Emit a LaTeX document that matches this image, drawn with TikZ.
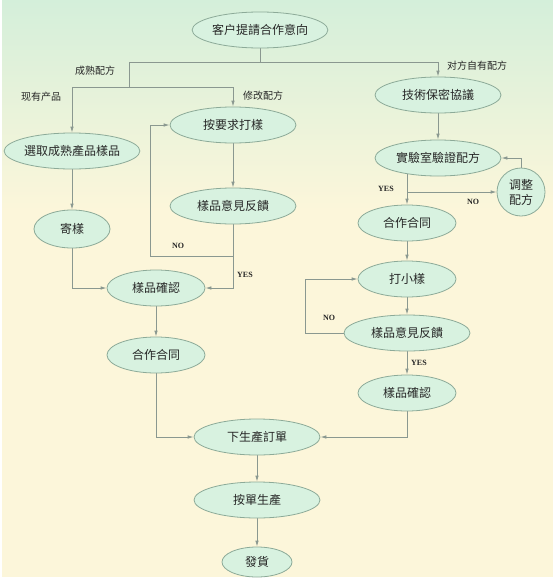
\documentclass[tikz,border=0pt]{standalone}
\usepackage{fontspec}
\setmainfont{Liberation Serif}
\newfontfamily\cjk{Noto Sans CJK SC}
\usetikzlibrary{shapes.geometric,arrows.meta}
\definecolor{nodefill}{RGB}{216,242,224}
\definecolor{nodeline}{RGB}{140,170,152}
\definecolor{linkcol}{RGB}{138,152,144}
\definecolor{topbg}{RGB}{212,239,218}
\definecolor{lowbg}{RGB}{252,246,218}
\pgfdeclarelayer{bg}
\pgfdeclarelayer{links}
\pgfsetlayers{bg,links,main}
\tikzset{
	proc/.style={ellipse,draw=nodeline,fill=nodefill,line width=0.8pt,inner sep=0pt,
		minimum height=36pt,font=\cjk\fontsize{12}{14}\selectfont,text=black!85},
	wide/.style={proc,minimum width=126pt},
	mid/.style={proc,minimum width=98pt},
	lbl/.style={font=\cjk\fontsize{10}{12}\selectfont,text=black!85},
	yn/.style={font=\bfseries\fontsize{8}{9}\selectfont,text=black!85},
	link/.style={draw=linkcol,line width=0.8pt}
}
\begin{document}
\begin{tikzpicture}[x=1pt,y=-1pt,>={Latex[length=6pt,width=3.5pt]}]
	\useasboundingbox (0,0) rectangle (553,587);
	\begin{pgfonlayer}{bg}
		\fill[white] (0,0) rectangle (553,587);
		\shade[top color=topbg,bottom color=lowbg] (2,0) rectangle (553,210);
		\fill[lowbg] (2,209) rectangle (553,577);
	\end{pgfonlayer}

	\draw (260,30) node[wide] (req){客户提請合作意向};
	\draw (438,95) node[wide] (secret){技術保密協議};
	\draw (233,125) node[wide] (custom){按要求打樣};
	\draw (72,151) node[wide] (pick){選取成熟產品樣品};
	\draw (438,158) node[wide] (lab){實驗室驗證配方};
	\draw (521,192) node[proc,circle,minimum size=48pt,align=center,font=\cjk\fontsize{12}{15}\selectfont] (adjust){调整\\配方};
	\draw (233,206) node[wide] (feedL){樣品意見反饋};
	\draw (72,229) node[proc,minimum width=76pt,minimum height=38pt] (send){寄樣};
	\draw (407,223) node[mid] (contractR){合作合同};
	\draw (156,288) node[mid] (confirmL){樣品確認};
	\draw (407,279) node[mid] (small){打小樣};
	\draw (156,355) node[mid] (contractL){合作合同};
	\draw (407,333) node[wide] (feedR){樣品意見反饋};
	\draw (407,393) node[mid] (confirmR){樣品確認};
	\draw (257,437) node[wide] (order){下生產訂單};
	\draw (257,500) node[wide] (produce){按單生產};
	\draw (257,562) node[proc,minimum width=70pt,minimum height=30pt] (ship){發貨};

	\coordinate (fork1) at (129,62);
	\coordinate (fork2) at (129,87);
	\coordinate (noL) at (233,256);
	\coordinate (loopL) at (150,256);
	\coordinate (loopR) at (305,333);

	\begin{pgfonlayer}{links}
		\draw[link] (req) -- (req |- fork1);
		\draw[link,->] (fork1) -| (secret);
		\draw[link] (fork1) -- (fork2);
		\draw[link,->] (fork2) -| (pick);
		\draw[link,->] (fork2) -| (custom);

		\draw[link,->] (pick) -- (send);
		\draw[link,->] (send) |- (confirmL);
		\draw[link,->] (custom) -- (feedL);
		\draw[link,->] (feedL) |- (confirmL);
		\draw[link,->] (noL) -- (loopL) |- (custom);
		\draw[link,->] (confirmL) -- (contractL);
		\draw[link,->] (contractL) |- (order);

		\draw[link,->] (secret) -- (lab);
		\draw[link,->] (contractR |- lab) -- (contractR);
		\draw[link,->] (contractR |- adjust) -- (adjust);
		\draw[link,->] (adjust) |- (lab);
		\draw[link,->] (contractR) -- (small);
		\draw[link,->] (small) -- (feedR);
		\draw[link,->] (feedR) -- (loopR) |- (small);
		\draw[link,->] (feedR) -- (confirmR);
		\draw[link,->] (confirmR) |- (order);

		\draw[link,->] (order) -- (produce);
		\draw[link,->] (produce) -- (ship);
	\end{pgfonlayer}

	\draw (95,71) node[lbl] (matureLbl){成熟配方};
	\draw (477,66) node[lbl] (ownLbl){对方自有配方};
	\draw (41,97) node[lbl] (stockLbl){现有产品};
	\draw (263,96) node[lbl] (modLbl){修改配方};
	\draw (178,246) node[yn] (noLbl1){NO};
	\draw (245,275) node[yn] (yesLbl1){YES};
	\draw (386,189) node[yn] (yesLbl2){YES};
	\draw (473,202) node[yn] (noLbl2){NO};
	\draw (329,318) node[yn] (noLbl3){NO};
	\draw (419,363) node[yn] (yesLbl3){YES};
\end{tikzpicture}
\end{document}
